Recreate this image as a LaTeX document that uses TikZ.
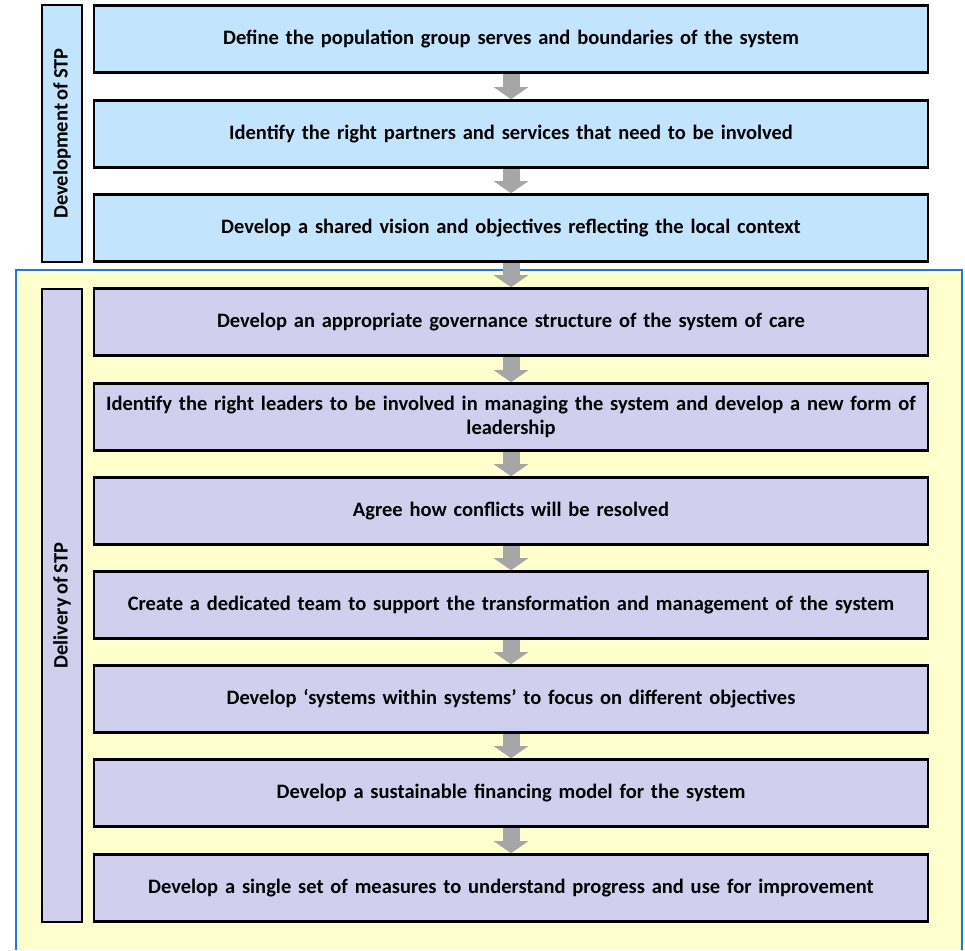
\documentclass[tikz,border=0pt]{standalone}
\usepackage{fontspec}
\setmainfont{Carlito}[WordSpace=0.8]
\usetikzlibrary{arrows.meta}
\definecolor{devblue}{HTML}{C2E4FC}
\definecolor{dellav}{HTML}{D1CFEE}
\definecolor{panelyel}{HTML}{FFFFCE}
\definecolor{panelblue}{HTML}{1E7AD2}
\definecolor{arrgray}{HTML}{A6A6A6}
\tikzset{
  stepbox/.style={draw=black, line width=2.6pt, minimum width=834pt, minimum height=67pt,
    text width=815pt, align=center, inner sep=0pt, font=\fontsize{20.5}{24}\selectfont\bfseries},
  devbox/.style={stepbox, fill=devblue},
  delbox/.style={stepbox, fill=dellav},
  sidebox/.style={draw=black, line width=2.6pt, minimum width=40pt, inner sep=0pt},
  sidelabel/.style={rotate=90, font=\fontsize{20.5}{24}\selectfont\bfseries},
  flowarrow/.style={arrgray, line width=17pt, -{Triangle[length=12pt,width=34pt]}}
}
\begin{document}
\begin{tikzpicture}[x=1pt,y=-1pt]
\useasboundingbox (0,0) rectangle (965,950);
% delivery panel
\fill[panelyel] (16,270) rectangle (962,950);
\draw[panelblue, line width=1.5pt] (16,950) -- (16,270) -- (962,270) -- (962,950);
% side boxes
\node[sidebox, fill=devblue, minimum height=257pt] (devside) at (62,133.5) {};
\node[sidelabel] (devlab) at (devside.center) {Development of STP};
\node[sidebox, fill=dellav, minimum height=633pt] (delside) at (62,605.5) {};
\node[sidelabel] (dellab) at (delside.center) {Delivery of STP};
% development steps
\node[devbox] (d1) at (511,39) {Define the population group serves and boundaries of the system};
\node[devbox] (d2) at (511,134) {Identify the right partners and services that need to be involved};
\node[devbox] (d3) at (511,228) {Develop a shared vision and objectives reflecting the local context};
% delivery steps
\node[delbox] (e1) at (511,322) {Develop an appropriate governance structure of the system of care};
\node[delbox] (e2) at (511,417) {Identify the right leaders to be involved in managing the system and develop a new form of\\leadership};
\node[delbox] (e3) at (511,511) {Agree how conflicts will be resolved};
\node[delbox] (e4) at (511,605) {Create a dedicated team to support the transformation and management of the system};
\node[delbox] (e5) at (511,699) {Develop `systems within systems' to focus on different objectives};
\node[delbox] (e6) at (511,793) {Develop a sustainable financing model for the system};
\node[delbox] (e7) at (511,888) {Develop a single set of measures to understand progress and use for improvement};
% arrows
\foreach \a/\b in {d1/d2,d2/d3,d3/e1,e1/e2,e2/e3,e3/e4,e4/e5,e5/e6,e6/e7}{
  \draw[flowarrow] (\a.south) -- (\b.north);
}
\end{tikzpicture}
\end{document}
